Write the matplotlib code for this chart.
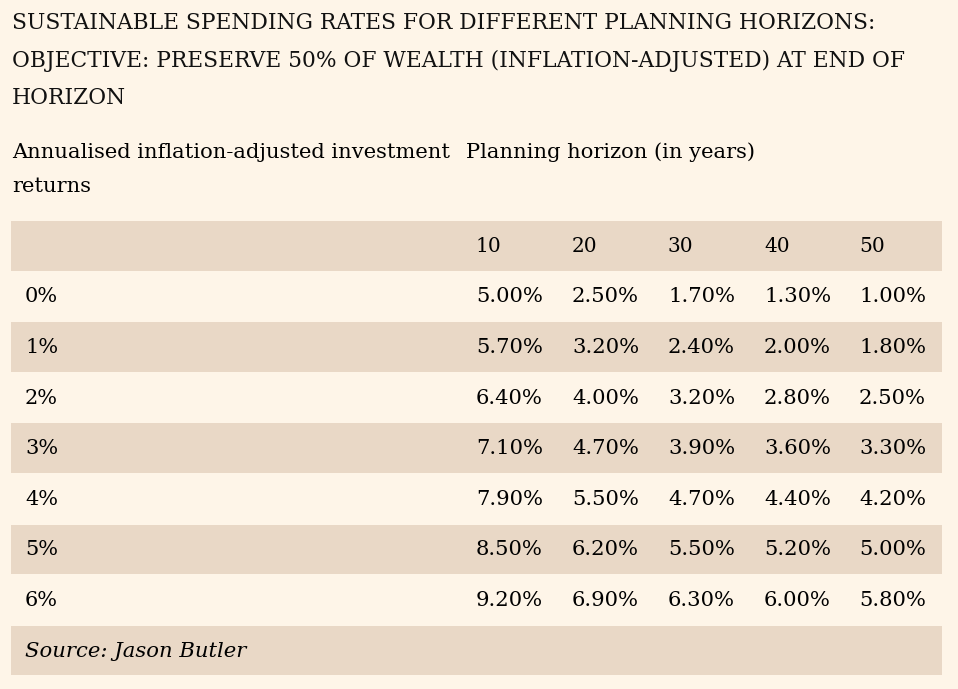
import matplotlib.pyplot as plt
from matplotlib.patches import Rectangle

title_lines = ["SUSTAINABLE SPENDING RATES FOR DIFFERENT PLANNING HORIZONS:",
               "OBJECTIVE: PRESERVE 50% OF WEALTH (INFLATION-ADJUSTED) AT END OF",
               "HORIZON"]
row_header = ["Annualised inflation-adjusted investment", "returns"]
col_header = "Planning horizon (in years)"
horizons = ["10", "20", "30", "40", "50"]
returns = ["0%", "1%", "2%", "3%", "4%", "5%", "6%"]
rates = [
    [5.00, 2.50, 1.70, 1.30, 1.00],
    [5.70, 3.20, 2.40, 2.00, 1.80],
    [6.40, 4.00, 3.20, 2.80, 2.50],
    [7.10, 4.70, 3.90, 3.60, 3.30],
    [7.90, 5.50, 4.70, 4.40, 4.20],
    [8.50, 6.20, 5.50, 5.20, 5.00],
    [9.20, 6.90, 6.30, 6.00, 5.80],
]
source = "Source: Jason Butler"

bg = "#fef5e8"
band = "#e9d8c6"
plt.rcParams['font.family'] = ['DejaVu Serif']

fig = plt.figure(figsize=(9.58, 6.89), dpi=100, facecolor=bg)
ax = fig.add_axes([0, 0, 1, 1])
ax.set_xlim(0, 958)
ax.set_ylim(689, 0)
ax.axis('off')

# title
for i, line in enumerate(title_lines):
    ax.text(12, 23 + i * 37.5, line, fontsize=15.7, va='center', ha='left', color='#111111')

ax.text(12, 152, row_header[0], fontsize=15.1, va='center')
ax.text(12, 187, row_header[1], fontsize=15.1, va='center')
ax.text(466, 152, col_header, fontsize=15.1, va='center')

left, right = 11, 942
top, rh = 221, 50.6
col_x = [476, 572, 668, 764, 859]

n_rows = len(returns) + 2  # header + data + source
for r in range(n_rows):
    y0 = top + r * rh
    if r % 2 == 0:
        ax.add_patch(Rectangle((left, y0), right - left, rh - 1, color=band, lw=0))

# header
yc = top + rh / 2
for x, h in zip(col_x, horizons):
    ax.text(x, yc, h, fontsize=14.5, va='center')

for i, (ret, vals) in enumerate(zip(returns, rates)):
    yc = top + (i + 1) * rh + rh / 2
    ax.text(25, yc, ret, fontsize=15, va='center')
    for x, v in zip(col_x, vals):
        ax.text(x, yc, f"{v:.2f}%", fontsize=15.2, va='center')

yc = top + (len(returns) + 1) * rh + rh / 2
ax.text(25, yc, source, fontsize=15.2, va='center', style='italic')

fig.savefig("out.png", dpi=100, facecolor=bg)
